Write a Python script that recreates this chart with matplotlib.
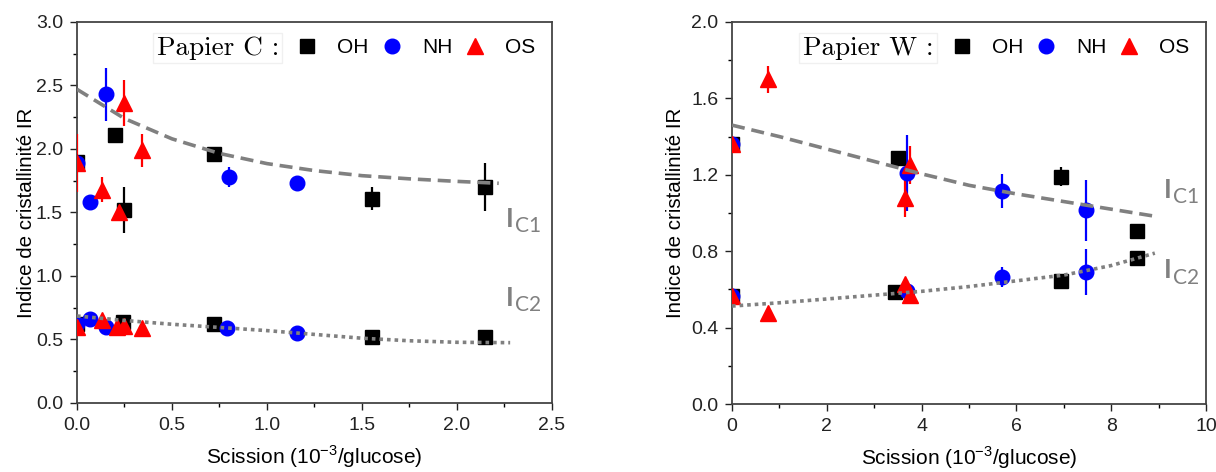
import matplotlib.pyplot as plt
from matplotlib.lines import Line2D

# ---- Papier C (left) ----
c_oh_x = [0, 0.20, 0.25, 0.72, 1.555, 2.15, 0, 0.24, 0.72, 1.555, 2.15]
c_oh_y = [1.90, 2.11, 1.52, 1.96, 1.61, 1.70, 0.62, 0.64, 0.62, 0.52, 0.52]
c_oh_e = [0, 0, 0.18, 0, 0.09, 0.19, 0, 0.04, 0, 0.05, 0]

c_nh_x = [0, 0.07, 0.155, 0.80, 1.16, 0, 0.07, 0.155, 0.79, 1.16]
c_nh_y = [1.89, 1.58, 2.43, 1.78, 1.73, 0.62, 0.66, 0.60, 0.59, 0.55]
c_nh_e = [0, 0, 0.21, 0.08, 0, 0, 0, 0, 0, 0]

c_os_x = [0, 0.13, 0.22, 0.25, 0.34, 0, 0.13, 0.21, 0.25, 0.34]
c_os_y = [1.89, 1.68, 1.50, 2.36, 1.99, 0.60, 0.65, 0.60, 0.61, 0.59]
c_os_e = [0.23, 0.10, 0.05, 0.18, 0.13, 0, 0, 0.06, 0, 0]

# fit curves
c_ic1_x = [0, 0.25, 0.5, 0.75, 1.0, 1.25, 1.5, 1.75, 2.0, 2.22]
c_ic1_y = [2.47, 2.24, 2.08, 1.965, 1.885, 1.83, 1.79, 1.765, 1.745, 1.73]
c_ic2_x = [0, 0.25, 0.5, 0.75, 1.0, 1.25, 1.5, 1.75, 2.0, 2.28]
c_ic2_y = [0.685, 0.65, 0.62, 0.595, 0.57, 0.54, 0.51, 0.49, 0.478, 0.475]

# ---- Papier W (right) ----
w_oh_x = [0, 3.50, 6.94, 8.54, 0, 3.44, 6.94, 8.54]
w_oh_y = [1.36, 1.29, 1.19, 0.905, 0.565, 0.585, 0.645, 0.765]
w_oh_e = [0, 0, 0.05, 0, 0, 0, 0, 0.02]

w_nh_x = [0, 3.69, 5.70, 7.47, 0, 3.69, 5.70, 7.47]
w_nh_y = [1.36, 1.21, 1.115, 1.015, 0.565, 0.59, 0.665, 0.69]
w_nh_e = [0, 0.20, 0.09, 0.16, 0, 0.06, 0.05, 0.12]

w_os_x = [0, 0.75, 3.65, 3.75, 0, 0.75, 3.65, 3.76]
w_os_y = [1.36, 1.70, 1.08, 1.25, 0.565, 0.475, 0.63, 0.57]
w_os_e = [0, 0.07, 0.10, 0.10, 0, 0, 0, 0]

w_ic1_x = [0, 1, 2, 3, 4, 5, 6, 7, 8, 9]
w_ic1_y = [1.46, 1.40, 1.335, 1.27, 1.205, 1.145, 1.10, 1.06, 1.02, 0.98]
w_ic2_x = [0, 1, 2, 3, 4, 5, 6, 7, 8, 8.92]
w_ic2_y = [0.513, 0.53, 0.55, 0.57, 0.59, 0.615, 0.645, 0.675, 0.725, 0.79]

plt.rcParams['font.family'] = ['Liberation Sans', 'DejaVu Sans']

fig = plt.figure(figsize=(12.16, 4.72), dpi=100)
ax1 = fig.add_axes([0.0633, 0.1462, 0.3906, 0.8072])
ax2 = fig.add_axes([0.602, 0.144, 0.3898, 0.8094])

grey = '#808080'


def draw(ax, oh, nh, os_, ic1, ic2, name, ic_pos, ypad):
    for (x, y, e), mk, col, ms in [(oh, 's', 'black', 9.5),
                                    (nh, 'o', 'blue', 10.5),
                                    (os_, '^', 'red', 11)]:
        ax.errorbar(x, y, yerr=e, fmt=mk, color=col, ms=ms, mec=col,
                    elinewidth=1.6, capsize=0, zorder=3)
    ax.plot(ic1[0], ic1[1], color=grey, lw=2.6, dashes=(3.6, 1.9), zorder=4)
    ax.plot(ic2[0], ic2[1], color=grey, lw=2.6, dashes=(1, 1.1), zorder=4)
    for (tx, ty), sub in zip(ic_pos, ['C1', 'C2']):
        ax.text(tx, ty, 'I', color=grey, fontsize=19, family='Lato',
                fontweight='bold', ha='left', va='center')
        ax.annotate(sub, xy=(tx, ty), xytext=(6.5, 2), textcoords='offset points',
                    color=grey, fontsize=15, family='Lato', ha='left', va='top')

    ax.text(0.425, 0.932, name, transform=ax.transAxes, fontsize=19.5,
            family='cmr10', ha='right', va='center',
            bbox=dict(facecolor='white', edgecolor='#f0f0f0', pad=2.5))
    handles = [Line2D([], [], ls='none', marker='s', color='black', ms=9.5),
               Line2D([], [], ls='none', marker='o', color='blue', ms=10.5),
               Line2D([], [], ls='none', marker='^', color='red', ms=11)]
    ax.legend(handles, ['OH', 'NH', 'OS'], ncol=3, frameon=False,
              loc='center right', bbox_to_anchor=(0.965, 0.932),
              fontsize=15, handlelength=1.0, handletextpad=0.94,
              columnspacing=0.6, borderaxespad=0, borderpad=0)

    ax.set_ylabel('Indice de cristallinité IR', fontsize=14.8, labelpad=ypad)
    ax.set_xlabel('Scission (10$^{\\mathregular{-3}}$/glucose)', fontsize=15,
                  labelpad=7)
    ax.tick_params(which='major', direction='out', length=5, width=1,
                   labelsize=14, pad=5, colors='#222222')
    ax.tick_params(which='minor', direction='out', length=3, width=1)
    for sp in ax.spines.values():
        sp.set_linewidth(1.3)
        sp.set_color('#444444')


draw(ax1, (c_oh_x, c_oh_y, c_oh_e), (c_nh_x, c_nh_y, c_nh_e),
     (c_os_x, c_os_y, c_os_e), (c_ic1_x, c_ic1_y), (c_ic2_x, c_ic2_y),
     'Papier C :', [(2.26, 1.45), (2.26, 0.83)], 0)
ax1.set_xlim(0, 2.5)
ax1.set_ylim(0, 3.0)
ax1.set_xticks([0, 0.5, 1.0, 1.5, 2.0, 2.5])
ax1.set_xticks([0.25, 0.75, 1.25, 1.75, 2.25], minor=True)
ax1.set_yticks([0, 0.5, 1.0, 1.5, 2.0, 2.5, 3.0])
ax1.set_yticks([0.25, 0.75, 1.25, 1.75, 2.25, 2.75], minor=True)
ax1.xaxis.set_major_formatter('{x:.1f}')
ax1.yaxis.set_major_formatter('{x:.1f}')

draw(ax2, (w_oh_x, w_oh_y, w_oh_e), (w_nh_x, w_nh_y, w_nh_e),
     (w_os_x, w_os_y, w_os_e), (w_ic1_x, w_ic1_y), (w_ic2_x, w_ic2_y),
     'Papier W :', [(9.12, 1.12), (9.12, 0.70)], 4)
ax2.set_xlim(0, 10)
ax2.set_ylim(0, 2.0)
ax2.set_xticks([0, 2, 4, 6, 8, 10])
ax2.set_xticks([1, 3, 5, 7, 9], minor=True)
ax2.set_yticks([0, 0.4, 0.8, 1.2, 1.6, 2.0])
ax2.set_yticks([0.2, 0.6, 1.0, 1.4, 1.8], minor=True)
ax2.yaxis.set_major_formatter('{x:.1f}')

fig.savefig('out.png', dpi=100)
